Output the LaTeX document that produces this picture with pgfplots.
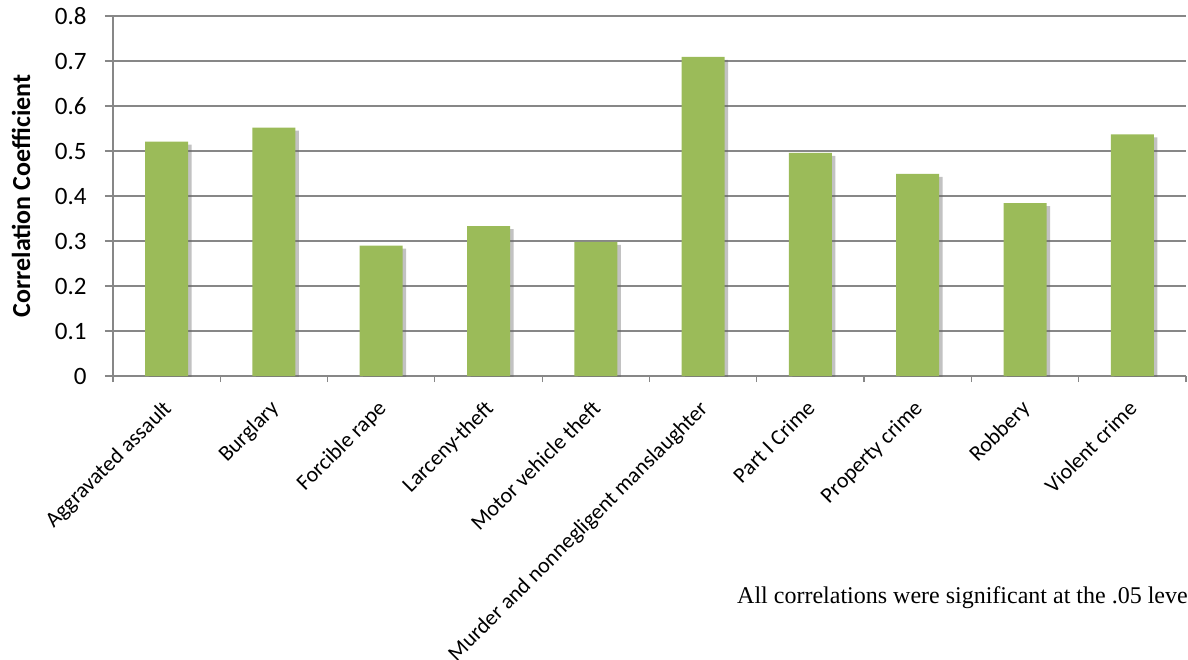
\documentclass[border=0pt]{standalone}
\usepackage{fontspec}
\setmainfont{Carlito}
\newfontfamily\notefont{Liberation Serif}
\usepackage{pgfplots}
\pgfplotsset{compat=1.18}
\usetikzlibrary{shadows}
\definecolor{barg}{HTML}{9BBB59}
\definecolor{gridg}{HTML}{878787}
\begin{document}
\begin{tikzpicture}
\path[use as bounding box] (-113bp,-284bp) rectangle (1075bp,376bp);
\begin{axis}[
  at={(0,0)}, anchor=south west,
  scale only axis, width=1073bp, height=360bp,
  xmin=-0.5, xmax=9.5, ymin=0, ymax=0.8,
  axis x line*=bottom, axis y line*=left,
  axis line style={gridg, line width=1.2bp},
  ytick={0,0.1,...,0.8},
  yticklabel style={/pgf/number format/fixed, /pgf/number format/precision=1},
  /pgf/number format/assume math mode=true,
  ymajorgrids, major grid style={gridg, line width=1.2bp},
  tick align=outside, tick pos=left,
  major tick length=8bp, minor tick length=6bp,
  every tick/.style={gridg, line width=1.2bp},
  xtick={0,...,9},
  major x tick style={draw=none},
  minor xtick={-0.5,0.5,...,9.5},
  xticklabels={Aggravated assault,Burglary,Forcible rape,Larceny-theft,Motor vehicle theft,Murder and nonnegligent manslaughter,Part I Crime,Property crime,Robbery,Violent crime},
  xticklabel style={xshift=-5bp, yshift=-12bp, rotate=45, anchor=north east, font=\fontsize{22bp}{26bp}\selectfont, inner sep=2bp},
  yticklabel style={xshift=-15bp, font=\fontsize{25bp}{30bp}\selectfont},
  ylabel={Correlation Coefficient},
  ylabel style={at={(axis description cs:-0.0857,0.5)}, anchor=center, font=\fontsize{26bp}{30bp}\selectfont\bfseries},
]
\addplot[ybar, bar width=43bp, fill=barg, draw=none,
  drop shadow={shadow xshift=3.5bp, shadow yshift=-3bp, opacity=0.4, fill=black!60}]
  coordinates {(0,0.521) (1,0.552) (2,0.290) (3,0.333) (4,0.298) (5,0.709) (6,0.496) (7,0.449) (8,0.384) (9,0.537)};
\end{axis}
\node[anchor=base west, inner sep=0pt, font=\notefont\fontsize{24bp}{28bp}\selectfont] at (624bp,-227bp) {All correlations were significant at the .05 level};
\end{tikzpicture}
\end{document}
